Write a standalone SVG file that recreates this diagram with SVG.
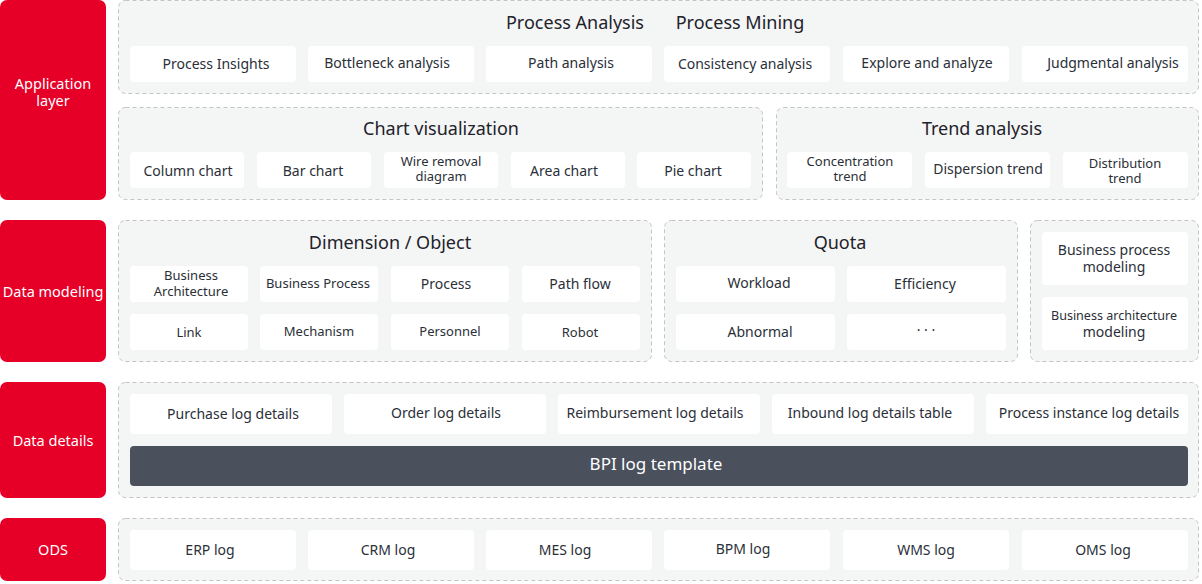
<svg xmlns="http://www.w3.org/2000/svg" width="1202" height="584" viewBox="0 0 1202 584">
<style>
.layer{fill:#E60028}
.lt{fill:#FFFFFF;font-family:"Noto Sans","Open Sans",sans-serif;font-size:14.5px;text-anchor:middle}
.cont{fill:#F4F5F5;stroke:#C4C4C4;stroke-width:1;stroke-dasharray:4 3}
.box{fill:#FFFFFF}
.t{fill:#2B2F38;font-family:"Noto Sans","Open Sans",sans-serif;font-size:14px;text-anchor:middle}
.ts{fill:#2B2F38;font-family:"Noto Sans","Open Sans",sans-serif;font-size:13px;text-anchor:middle}
.h{fill:#1E222A;font-family:"Noto Sans","Open Sans",sans-serif;font-size:18px;text-anchor:middle}
.bar{fill:#4A505C}
.bt{fill:#FFFFFF;font-family:"Noto Sans","Open Sans",sans-serif;font-size:17px;text-anchor:middle}
</style>
<rect width="1202" height="584" fill="#FFFFFF"/>

<g id="layer-application">
<rect class="layer" x="0" y="0" width="106" height="200" rx="7"/>
<text class="lt" x="53" y="89">Application<tspan x="53" dy="17">layer</tspan></text>
</g>
<g id="layer-data-modeling">
<rect class="layer" x="0" y="220" width="106" height="142" rx="7"/>
<text class="lt" x="53" y="297">Data modeling</text>
</g>
<g id="layer-data-details">
<rect class="layer" x="0" y="382" width="106" height="116" rx="7"/>
<text class="lt" x="53" y="446">Data details</text>
</g>
<g id="layer-ods">
<rect class="layer" x="0" y="518" width="106" height="63" rx="7"/>
<text class="lt" x="53" y="555">ODS</text>
</g>

<g id="process-analysis">
<rect class="cont" x="118.5" y="0.5" width="1080" height="93" rx="7"/>
<text class="h" x="575" y="29">Process Analysis</text>
<text class="h" x="740" y="29">Process Mining</text>
<rect class="box" x="130" y="46" width="166" height="36" rx="4"/><text class="t" x="216" y="69">Process Insights</text>
<rect class="box" x="308" y="46" width="166" height="36" rx="4"/><text class="t" x="387" y="68">Bottleneck analysis</text>
<rect class="box" x="486" y="46" width="166" height="36" rx="4"/><text class="t" x="571" y="68">Path analysis</text>
<rect class="box" x="664" y="46" width="166" height="36" rx="4"/><text class="t" x="745" y="69">Consistency analysis</text>
<rect class="box" x="843" y="46" width="166" height="36" rx="4"/><text class="t" x="927" y="68">Explore and analyze</text>
<rect class="box" x="1022" y="46" width="166" height="36" rx="4"/><text class="t" x="1113" y="68">Judgmental analysis</text>
</g>

<g id="chart-visualization">
<rect class="cont" x="118.5" y="107.5" width="644" height="92" rx="7"/>
<text class="h" x="441" y="135">Chart visualization</text>
<rect class="box" x="130" y="152" width="114" height="36" rx="4"/><text class="t" x="188" y="176">Column chart</text>
<rect class="box" x="257" y="152" width="114" height="36" rx="4"/><text class="t" x="313" y="176">Bar chart</text>
<rect class="box" x="384" y="152" width="114" height="36" rx="4"/><text class="ts" x="441" y="166">Wire removal<tspan x="441" dy="15">diagram</tspan></text>
<rect class="box" x="511" y="152" width="114" height="36" rx="4"/><text class="t" x="564" y="176">Area chart</text>
<rect class="box" x="637" y="152" width="114" height="36" rx="4"/><text class="t" x="693" y="176">Pie chart</text>
</g>

<g id="trend-analysis">
<rect class="cont" x="776.5" y="107.5" width="422" height="92" rx="7"/>
<text class="h" x="982" y="135">Trend analysis</text>
<rect class="box" x="787" y="152" width="125" height="36" rx="4"/><text class="ts" x="850" y="166">Concentration<tspan x="850" dy="15">trend</tspan></text>
<rect class="box" x="925" y="152" width="125" height="36" rx="4"/><text class="t" x="988" y="174">Dispersion trend</text>
<rect class="box" x="1063" y="152" width="125" height="36" rx="4"/><text class="ts" x="1125" y="168">Distribution<tspan x="1125" dy="15">trend</tspan></text>
</g>

<g id="dimension-object">
<rect class="cont" x="118.5" y="220.5" width="533" height="141" rx="7"/>
<text class="h" x="390" y="249">Dimension / Object</text>
<rect class="box" x="130" y="266" width="118" height="36" rx="4"/><text class="ts" x="191" y="280" font-size="12.5">Business<tspan x="191" dy="15.5">Architecture</tspan></text>
<rect class="box" x="260" y="266" width="118" height="36" rx="4"/><text class="ts" x="318" y="288">Business Process</text>
<rect class="box" x="391" y="266" width="118" height="36" rx="4"/><text class="t" x="446" y="289">Process</text>
<rect class="box" x="522" y="266" width="118" height="36" rx="4"/><text class="t" x="580" y="289">Path flow</text>
<rect class="box" x="130" y="314" width="118" height="36" rx="4"/><text class="ts" x="189" y="337">Link</text>
<rect class="box" x="260" y="314" width="118" height="36" rx="4"/><text class="ts" x="319" y="336">Mechanism</text>
<rect class="box" x="391" y="314" width="118" height="36" rx="4"/><text class="ts" x="450" y="336">Personnel</text>
<rect class="box" x="522" y="314" width="118" height="36" rx="4"/><text class="ts" x="580" y="337">Robot</text>
</g>

<g id="quota">
<rect class="cont" x="664.5" y="220.5" width="353" height="141" rx="7"/>
<text class="h" x="840" y="249">Quota</text>
<rect class="box" x="676" y="266" width="159" height="36" rx="4"/><text class="t" x="759" y="288">Workload</text>
<rect class="box" x="847" y="266" width="159" height="36" rx="4"/><text class="t" x="925" y="289">Efficiency</text>
<rect class="box" x="676" y="314" width="159" height="36" rx="4"/><text class="t" x="760" y="337">Abnormal</text>
<rect class="box" x="847" y="314" width="159" height="36" rx="4"/><text class="t" x="926" y="335">· · ·</text>
</g>

<g id="modeling">
<rect class="cont" x="1030.5" y="220.5" width="168" height="141" rx="7"/>
<rect class="box" x="1042" y="232" width="146" height="53" rx="4"/><text class="t" x="1114" y="255">Business process<tspan x="1114" dy="17">modeling</tspan></text>
<rect class="box" x="1042" y="297" width="146" height="53" rx="4"/><text class="t" x="1114" y="320"><tspan font-size="13" textLength="126" lengthAdjust="spacingAndGlyphs">Business architecture</tspan><tspan x="1114" dy="17">modeling</tspan></text>
</g>

<g id="data-details">
<rect class="cont" x="118.5" y="382.5" width="1080" height="115" rx="7"/>
<rect class="box" x="130" y="394" width="202" height="40" rx="4"/><text class="t" x="233" y="419">Purchase log details</text>
<rect class="box" x="344" y="394" width="202" height="40" rx="4"/><text class="t" x="446" y="418">Order log details</text>
<rect class="box" x="558" y="394" width="202" height="40" rx="4"/><text class="t" x="655" y="418">Reimbursement log details</text>
<rect class="box" x="772" y="394" width="202" height="40" rx="4"/><text class="t" x="870" y="418">Inbound log details table</text>
<rect class="box" x="986" y="394" width="202" height="40" rx="4"/><text class="t" x="1089" y="418">Process instance log details</text>
</g>
<g id="bpi-log-template">
<rect class="bar" x="130" y="446" width="1058" height="40" rx="4"/>
<text class="bt" x="656" y="470">BPI log template</text>
</g>

<g id="ods">
<rect class="cont" x="118.5" y="518.5" width="1080" height="62" rx="7"/>
<rect class="box" x="130" y="530" width="166" height="40" rx="4"/><text class="t" x="210" y="555">ERP log</text>
<rect class="box" x="308" y="530" width="166" height="40" rx="4"/><text class="t" x="388" y="555">CRM log</text>
<rect class="box" x="486" y="530" width="166" height="40" rx="4"/><text class="t" x="565" y="555">MES log</text>
<rect class="box" x="664" y="530" width="166" height="40" rx="4"/><text class="t" x="743" y="554">BPM log</text>
<rect class="box" x="843" y="530" width="166" height="40" rx="4"/><text class="t" x="926" y="555">WMS log</text>
<rect class="box" x="1022" y="530" width="166" height="40" rx="4"/><text class="t" x="1103" y="555">OMS log</text>
</g>

<g id="connectors"></g>
</svg>
